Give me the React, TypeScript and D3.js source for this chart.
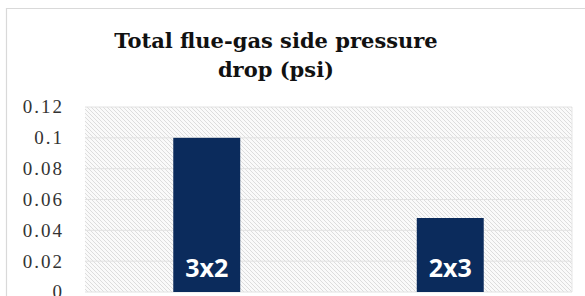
import React from "react";
import * as d3 from "d3";

// chart values
const categories = ["3x2", "2x3"];
const pressureDrop = [0.1, 0.048];
const yTicks = [0, 0.02, 0.04, 0.06, 0.08, 0.1, 0.12];
const titleLines = ["Total flue-gas side pressure", "drop (psi)"];

const W = 585;
const H = 296;
const plot = { left: 85, right: 572, top: 107, bottom: 292 };
const BAR_COLOR = "#0b2b5c";
// Liberation Serif has no bold face in the sandbox, so the title uses DejaVu Serif
const TITLE_FONT = "DejaVu Serif";
const TICK_FONT = "Liberation Serif";

export default function App() {
	const x = d3
		.scaleBand<string>()
		.domain(categories)
		.range([plot.left, plot.right])
		.paddingInner(0.725)
		.paddingOuter(0.3625);
	const y = d3.scaleLinear().domain([0, 0.12]).range([plot.bottom, plot.top]);

	const fmt = (v: number) => (v === 0 ? "0" : d3.format("~g")(v));

	return (
		<svg
			width={W}
			height={H}
			style={{ position: "absolute", left: 0, top: 0, background: "#fff" }}
		>
			<defs>
				<pattern id="hatch" patternUnits="userSpaceOnUse" width={4} height={4}>
					<rect width={4} height={4} fill="#fafafa" />
					<path d="M-1,1 l2,-2 M0,4 l4,-4 M3,5 l2,-2" stroke="#d6d6d6" strokeWidth={0.8} transform="scale(-1,1) translate(-4,0)" />
				</pattern>
			</defs>

			{/* chart frame */}
			<path d={`M6.5,${H} V8.5 H${W}`} fill="none" stroke="#d9d9d9" strokeWidth={1.2} />

			{/* title */}
			<text
				x={276}
				textAnchor="middle"
				fontFamily={TITLE_FONT}
				fontWeight="bold"
				fontSize={21}
				fill="#111"
			>
				{titleLines.map((t, i) => (
					<tspan key={t} x={276} y={48 + i * 29}>
						{t}
					</tspan>
				))}
			</text>

			{/* plot area */}
			<rect
				x={plot.left}
				y={plot.top}
				width={plot.right - plot.left}
				height={plot.bottom - plot.top}
				fill="url(#hatch)"
			/>
			<line x1={plot.right} x2={plot.right} y1={plot.top} y2={plot.bottom} stroke="#e6e6e6" />

			{/* gridlines + y tick labels */}
			{yTicks.map((t) => (
				<g key={t}>
					<line x1={plot.left} x2={plot.right} y1={y(t)} y2={y(t)} stroke="#e2e2e2" strokeWidth={1} />
					<text
						x={64}
						y={y(t)}
						dy="0.34em"
						textAnchor="end"
						fontFamily={TICK_FONT}
						fontSize={19}
						letterSpacing={2}
						fill="#333"
					>
						{fmt(t)}
					</text>
				</g>
			))}

			{/* bars */}
			{categories.map((c, i) => (
				<g key={c}>
					<rect
						x={x(c)}
						y={y(pressureDrop[i])}
						width={x.bandwidth()}
						height={y(0) - y(pressureDrop[i])}
						fill={BAR_COLOR}
					/>
					<text
						x={(x(c) ?? 0) + x.bandwidth() / 2}
						y={277}
						textAnchor="middle"
						fontFamily="Open Sans"
						fontWeight="bold"
						fontSize={25}
						fill="#fff"
					>
						{c}
					</text>
				</g>
			))}
		</svg>
	);
}
